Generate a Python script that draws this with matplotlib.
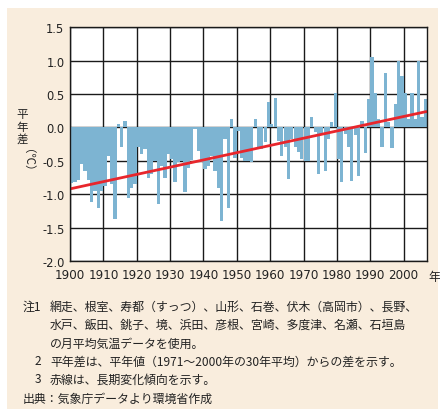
import matplotlib
matplotlib.use("Agg")
import matplotlib.pyplot as plt
from matplotlib.patches import Rectangle

plt.rcParams['font.family'] = ['Noto Sans CJK JP', 'DejaVu Sans']

# ---------------- data ----------------
years = list(range(1900, 2007))
anomaly = [
    -0.83, -0.82, -0.78, -0.55, -0.65, -0.78, -1.12, -0.95, -1.20, -0.95,   # 1900s
    -0.87, -0.42, -0.85, -1.37, 0.05, -0.30, 0.10, -1.05, -0.90, -0.85,     # 1910s
    -0.30, -0.40, -0.32, -0.75, -0.70, -0.50, -1.15, -0.57, -0.75, -0.40,   # 1920s
    -0.47, -0.82, -0.52, -0.50, -0.96, -0.60, -0.48, -0.03, -0.35, -0.52,   # 1930s
    -0.62, -0.57, -0.42, -0.65, -0.90, -1.40, -0.17, -1.20, 0.12, -0.45,    # 1940s
    -0.05, -0.45, -0.50, -0.50, -0.52, 0.12, -0.33, -0.33, -0.22, 0.38,     # 1950s
    0.05, 0.44, -0.20, -0.42, -0.30, -0.77, -0.17, -0.30, -0.37, -0.47,     # 1960s
    -0.50, -0.50, 0.15, -0.07, -0.70, -0.10, -0.65, -0.17, 0.08, 0.51,      # 1970s
    -0.47, -0.82, -0.10, -0.30, -0.80, -0.12, -0.72, 0.10, -0.38, 0.42,     # 1980s
    1.05, 0.52, 0.12, -0.30, 0.82, 0.08, -0.31, 0.35, 1.00, 0.77,           # 1990s
    0.52, 0.12, 0.52, 0.12, 1.00, 0.15, 0.43,                               # 2000s
]
trend_years = [1900, 2007]
trend_vals = [-0.92, 0.24]
xtick_years = list(range(1900, 2001, 10))
ytick_vals = [-2.0, -1.5, -1.0, -0.5, 0.0, 0.5, 1.0, 1.5]
ylabel_main = "平\n年\n差"
ylabel_unit = "（℃）"
year_unit = "年"
note_marks = ["注1", "", "", "2", "3"]
note_lines = [
    "網走、根室、寿都（すっつ）、山形、石巻、伏木（高岡市）、長野、",
    "水戸、飯田、銚子、境、浜田、彦根、宮崎、多度津、名瀬、石垣島",
    "の月平均気温データを使用。",
    "平年差は、平年値（1971～2000年の30年平均）からの差を示す。",
    "赤線は、長期変化傾向を示す。",
]
source = "出典：気象庁データより環境省作成"

# ---------------- style ----------------
W, H = 440, 410
cream = '#F9EDDD'
bar_blue = '#7DB4D2'
trend_red = '#E8262C'
ink = '#222222'

fig = plt.figure(figsize=(W / 100, H / 100), dpi=100)
fig.patch.set_facecolor('white')
fig.patches.append(Rectangle((7 / W, 0), (438 - 7) / W, (H - 9) / H,
                             transform=fig.transFigure, facecolor=cream,
                             edgecolor='none', zorder=-10))

ax = fig.add_axes([70 / W, 1 - 262 / H, 357 / W, (262 - 28.3) / H])
ax.set_facecolor('white')
ax.bar(years, anomaly, width=0.97, align='edge', color=bar_blue, zorder=2)
ax.plot(trend_years, trend_vals, color=trend_red, lw=2, zorder=4,
        solid_capstyle='butt')

ax.set_xlim(1900, 2007)
ax.set_ylim(-2.0, 1.5)
ax.set_xticks(xtick_years)
ax.set_xticklabels([str(y) for y in xtick_years], family='DejaVu Sans', fontsize=8.6)
ax.set_yticks(ytick_vals)
ax.set_yticklabels(["%.1f" % v for v in ytick_vals], family='DejaVu Sans', fontsize=8.3)
ax.tick_params(axis='both', length=0, colors=ink)
ax.tick_params(axis='x', pad=5)
ax.tick_params(axis='y', pad=4)
ax.grid(True, color='#1a1a1a', lw=1.0, zorder=3)
for s in ax.spines.values():
    s.set_color('#1a1a1a')
    s.set_linewidth(1.0)
    s.set_zorder(5)

# year unit
fig.text(434 / W, 1 - 277 / H, year_unit, ha='center', va='center', fontsize=8.6,
         color=ink)

# y label (vertical Japanese)
fig.text(22 / W, 1 - 127 / H, ylabel_main, ha='center', va='center', fontsize=8.3,
         linespacing=0.95, color=ink)
fig.text(22 / W, 1 - 166 / H, ylabel_unit, ha='center', va='center', fontsize=8.3,
         rotation=270, color=ink)

# notes
ys = [307, 325, 344, 362, 380]
for mark, line, y in zip(note_marks, note_lines, ys):
    if mark:
        x0 = 23 if mark == "注1" else 35
        fig.text(x0 / W, 1 - y / H, mark, ha='left', va='center', fontsize=8.6,
                 color=ink)
    fig.text(50 / W, 1 - y / H, line, ha='left', va='center', fontsize=8.6,
             color=ink)
fig.text(23 / W, 1 - 399 / H, source, ha='left', va='center', fontsize=8.6,
         color=ink)

fig.savefig('out.png', dpi=100, facecolor=fig.get_facecolor())
